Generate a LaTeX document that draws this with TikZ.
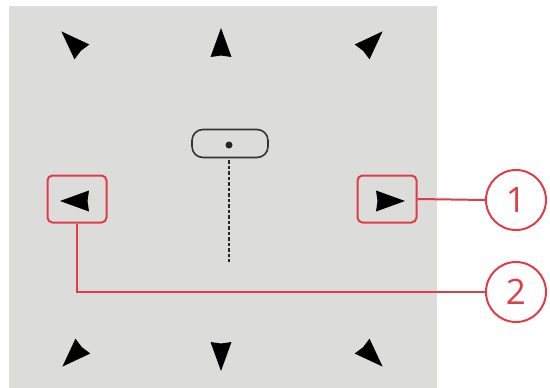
\documentclass[tikz,border=0pt]{standalone}
\usepackage{fontspec}
\setmainfont{Open Sans}
\usetikzlibrary{positioning,calc}
\definecolor{panelgray}{RGB}{220,220,218}
\definecolor{callred}{RGB}{222,62,72}

\begin{document}
\begin{tikzpicture}[x=1pt, y=-1pt]
    \tikzset{
      dart/.pic={\fill[black] (15,0) -- (-14,10.5) -- (-12.5,0) -- (-14,-10.5) -- cycle;},
      callbox/.style={draw=callred, line width=2pt, rounded corners=5pt,
                      minimum width=59pt, minimum height=47pt},
      callnum/.style={circle, draw=callred, line width=2pt, minimum size=60pt,
                      inner sep=0pt, text=callred, font=\fontsize{35}{35}\selectfont},
      callline/.style={draw=callred, line width=2pt},
    }
    \useasboundingbox (0,0) rectangle (550,388);
    \fill[panelgray] (9,6) rectangle (437,388);

    % marks round the panel
    \pic[rotate=135] at (72,42) {dart};
    \pic[rotate=90] at (221,43) {dart};
    \pic[rotate=45] at (372,42) {dart};
    \pic[rotate=225] at (73,356) {dart};
    \pic[rotate=270] at (221,356) {dart};
    \pic[rotate=315] at (372,356) {dart};
    \pic[rotate=180] at (75,201) {dart};
    \pic at (390,201) {dart};

    % slider
    \node[draw=black!80, line width=1.6pt, rounded corners=11pt,
          minimum width=76pt, minimum height=28pt] (knob) at (230,143.5) {};
    \node[circle, fill=black!85, inner sep=0pt, minimum size=7pt] (pivot) at (229,145) {};
    \coordinate (track) at (229,262);
    \draw[black!85, line width=1.4pt, dash pattern=on 3.5pt off 2pt]
      (pivot |- knob.south) ++(0,2) -- (track);

    % callouts
    \node[callbox] (lbox) at (77,199) {};
    \node[callbox] (rbox) at (387,199) {};
    \node[callnum] (n1) at (516,200) {1};
    \node[callnum] (n2) at (516,292) {2};
    \draw[callline] (rbox.east) -- (n1.west);
    \draw[callline] (n2.west) -| (lbox.south);
\end{tikzpicture}
\end{document}
